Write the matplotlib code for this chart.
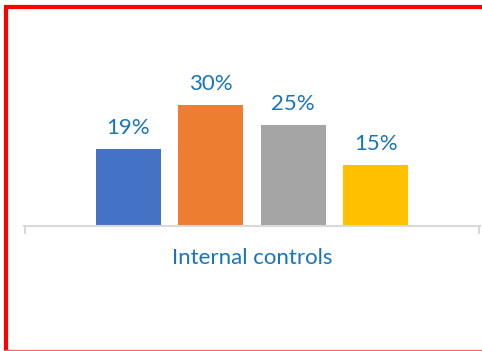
import matplotlib
matplotlib.use("Agg")
import matplotlib.pyplot as plt
from matplotlib.lines import Line2D
import numpy as np

# Data
category = "Internal controls"
series_values = [0.19, 0.30, 0.25, 0.15]
value_labels = ["19%", "30%", "25%", "15%"]
series_colors = ["#4472C4", "#ED7D31", "#A5A5A5", "#FFC000"]

W, H = 482, 351
fig = plt.figure(figsize=(W / 100, H / 100), dpi=100)
fig.patch.set_facecolor("white")

text_color = "#1A74B8"
font = "Lato"
fsize = 16

# Axes: baseline at y=225 px, spanning x 24..480 px
ax_left, ax_right = 24, 480
ax_bottom, ax_top = 225.5, 9
ax = fig.add_axes([ax_left / W, 1 - ax_bottom / H,
                   (ax_right - ax_left) / W, (ax_bottom - ax_top) / H])
ax.set_xlim(-0.5, 0.5)
ax.set_ylim(0, 0.54)
ax.axis("off")

n = len(series_values)
bar_w = 65 / (ax_right - ax_left)
step = 82.5 / (ax_right - ax_left)
offsets = (np.arange(n) - (n - 1) / 2) * step
bars = ax.bar(offsets, series_values, width=bar_w, color=series_colors, zorder=2)

for b, lab in zip(bars, value_labels):
    ax.annotate(lab, (b.get_x() + b.get_width() / 2, b.get_height()),
                xytext=(0, 11.3), textcoords="offset points",
                ha="center", va="baseline", fontsize=fsize, color=text_color,
                family=font)

# Category axis line with end ticks
axis_col = "#D9D9D9"
fig.add_artist(Line2D([ax_left / W, ax_right / W], [1 - 225.5 / H] * 2,
                      color=axis_col, lw=1.5, transform=fig.transFigure))
for xp in (ax_left + 0.5, ax_right - 1.5):
    fig.add_artist(Line2D([xp / W] * 2, [1 - 225.5 / H, 1 - 233 / H],
                          color=axis_col, lw=1.5, transform=fig.transFigure))

fig.text(252 / W, 1 - 258 / H, category, ha="center", va="center",
         fontsize=fsize, color=text_color, family=font)

# Red frame
fig.add_artist(Line2D([6 / W, 6 / W], [1 - 7 / H, 1 - 351 / H], color="#FF0000",
                      lw=3, transform=fig.transFigure, solid_capstyle="butt"))
fig.add_artist(Line2D([4 / W, 1], [1 - 7 / H, 1 - 7 / H], color="#FF0000",
                      lw=3, transform=fig.transFigure, solid_capstyle="butt"))
fig.add_artist(Line2D([4 / W, 1], [1 - 349.8 / H] * 2, color="#FF6666",
                      lw=1.0, transform=fig.transFigure, solid_capstyle="butt"))

fig.savefig("out.png", dpi=100, facecolor="white")
